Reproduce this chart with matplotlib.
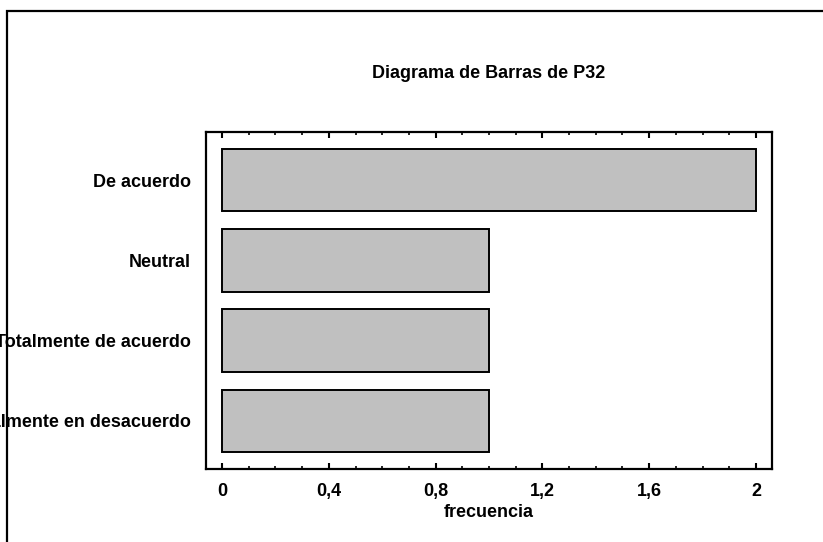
import matplotlib.pyplot as plt
import matplotlib.patches as patches
from matplotlib.ticker import MultipleLocator

# data
categories = ['De acuerdo', 'Neutral', 'Totalmente de acuerdo', 'Totalmente en desacuerdo']
counts = [2, 1, 1, 1]
xticks = [0, 0.4, 0.8, 1.2, 1.6, 2]
xtick_labels = ['0', '0,4', '0,8', '1,2', '1,6', '2']

plt.rcParams['font.family'] = ['Liberation Sans', 'DejaVu Sans']
plt.rcParams['font.weight'] = 'bold'
fs = 13

fig = plt.figure(figsize=(8.23, 5.42), dpi=100)
ax = fig.add_axes([206 / 823, 1 - 469 / 542, 566 / 823, 337 / 542])

# outer frame (only top/left visible, rest cropped)
fig.patches.append(patches.Rectangle((7 / 823, -0.2), 1.2, 1 - 11 / 542 + 0.2,
                                     transform=fig.transFigure, fill=False,
                                     edgecolor='black', linewidth=1.6, clip_on=False))

pos = list(range(len(categories)))
ax.barh(pos, counts, height=0.78, color='#c0c0c0', edgecolor='black', linewidth=1.4)

ax.set_xlim(-0.06, 2.06)
ax.set_ylim(3.6, -0.6)
ax.set_yticks(pos)
ax.set_yticklabels(categories, fontsize=fs, fontweight='bold')
ax.tick_params(axis='y', length=0, pad=11)

ax.set_xticks(xticks)
ax.set_xticklabels(xtick_labels, fontsize=fs, fontweight='bold')
ax.xaxis.set_minor_locator(MultipleLocator(0.1))
ax.tick_params(axis='x', which='major', direction='in', length=4, width=1.5,
               top=True, pad=10)
ax.tick_params(axis='x', which='minor', direction='in', length=2, width=1.2, top=True)

for s in ax.spines.values():
    s.set_linewidth(1.6)

ax.set_xlabel('frecuencia', fontsize=fs, fontweight='bold', labelpad=3)
ax.set_title('Diagrama de Barras de P32', fontsize=fs, fontweight='bold', pad=39)

fig.savefig('out.png', dpi=100)
